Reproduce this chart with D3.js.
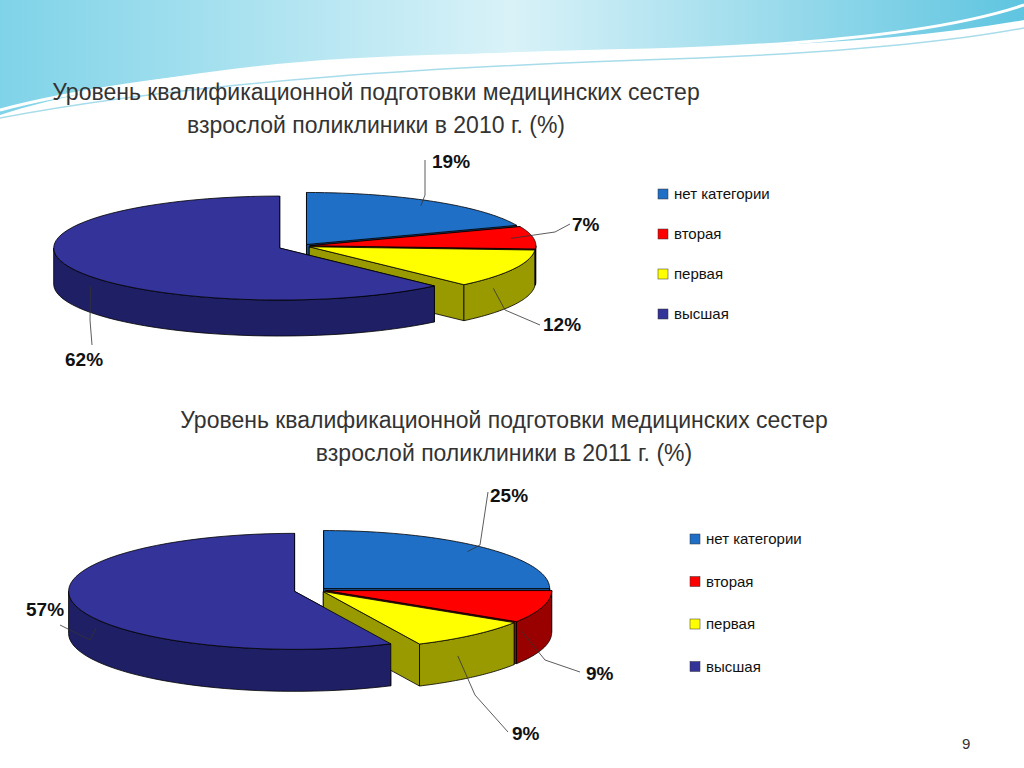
<!DOCTYPE html><html><head><meta charset="utf-8"><script src="https://d3js.org/d3.v7.min.js"></script>
<style>body{margin:0;background:#fff}text{font-family:"Liberation Sans",Arial,sans-serif}</style></head><body>
<svg id="c" width="1024" height="768"></svg>
<script>
const categories=["нет категории","вторая","первая","высшая"];
const values2010=[19,7,12,62];
const values2011=[25,9,9,57];
const colors=["#1f6fc6","#ff0000","#ffff00","#333399"];
const sideColors=["#164f8e","#990000","#999900","#1f1f66"];
const svg=d3.select("#c");
const defs=svg.append("defs");
const g1=defs.append("linearGradient").attr("id","wave").attr("x1",0).attr("x2",1);
g1.append("stop").attr("offset",0).attr("stop-color","#7fd3e8");
g1.append("stop").attr("offset",0.5).attr("stop-color","#d9f2f8");
g1.append("stop").attr("offset",1).attr("stop-color","#5fc5e0");
svg.append("path").attr("d","M0,0 L1024,0 L1024,20 C800,60 500,45 300,62 C180,72 60,95 0,115 Z").attr("fill","url(#wave)");
svg.append("path").attr("d","M0,110 C150,70 400,55 650,50 C820,45 950,30 1024,5").attr("fill","none").attr("stroke","#ffffff").attr("stroke-width",3);
svg.append("path").attr("d","M0,118 C200,80 450,66 700,58 C850,52 960,40 1024,28").attr("fill","none").attr("stroke","#a8dcea").attr("stroke-width",1.5);

function title(lines,cx,y0){lines.forEach((l,i)=>svg.append("text").attr("x",cx).attr("y",y0+i*33).attr("text-anchor","middle").attr("font-size",23).attr("fill","#333").text(l));}
title(["Уровень квалификационной подготовки медицинских сестер","взрослой поликлиники в 2010 г. (%)"],376,100);
title(["Уровень квалификационной подготовки медицинских сестер","взрослой поликлиники в 2011 г. (%)"],504,428);

function pie3d(vals,o){
  const pie=d3.pie().sort(null).value(d=>d)(vals);
  const sx=(cx,a)=>cx+o.rx*Math.sin(a), sy=(cy,a)=>cy-o.ry*Math.cos(a);
  const sl=pie.map((p,i)=>{const m=(p.startAngle+p.endAngle)/2;const e=o.explode[i];
    return {i,p,m,cx:o.cx+e*Math.sin(m),cy:o.cy-e*Math.cos(m)*o.ry/o.rx};});
  const faces=[];
  sl.forEach(s=>{const {cx,cy}=s,a0=s.p.startAngle,a1=s.p.endAngle,D=o.depth;
    const lo=Math.max(a0,Math.PI/2),hi=Math.min(a1,3*Math.PI/2);
    if(hi>lo){const pts=[];for(let k=0;k<=40;k++){const a=lo+(hi-lo)*k/40;pts.push([sx(cx,a),sy(cy,a)]);}
      for(let k=40;k>=0;k--){const a=lo+(hi-lo)*k/40;pts.push([sx(cx,a),sy(cy,a)+D]);}
      faces.push({pts,z:cy+o.ry*1.5,i:s.i});}
    [a0,a1].forEach(a=>{const pts=[[cx,cy],[sx(cx,a),sy(cy,a)],[sx(cx,a),sy(cy,a)+D],[cx,cy+D]];
      faces.push({pts,z:cy-o.ry*Math.cos(a)*0.5,i:s.i});});
  });
  faces.sort((a,b)=>a.z-b.z);
  faces.forEach(f=>svg.append("path").attr("d","M"+f.pts.map(p=>p.join(",")).join("L")+"Z").attr("fill",sideColors[f.i]).attr("stroke","#000").attr("stroke-width",0.8));
  sl.forEach(s=>{const pts=[[s.cx,s.cy]];const a0=s.p.startAngle,a1=s.p.endAngle;
    for(let k=0;k<=60;k++){const a=a0+(a1-a0)*k/60;pts.push([sx(s.cx,a),sy(s.cy,a)]);}
    svg.append("path").attr("d","M"+pts.map(p=>p.join(",")).join("L")+"Z").attr("fill",colors[s.i]).attr("stroke","#000").attr("stroke-width",0.8);});
  sl.forEach((s,j)=>{const L=o.labels[j];const a=s.m;const ax=sx(s.cx,a)*0.9+s.cx*0.1, ay=sy(s.cy,a)*0.9+s.cy*0.1+(Math.cos(a)<0?o.depth*0.6:0);
    svg.append("polyline").attr("points",[[ax,ay],L.elbow,L.end].map(p=>p.join(",")).join(" ")).attr("fill","none").attr("stroke","#333").attr("stroke-width",0.8);
    svg.append("text").attr("x",L.x).attr("y",L.y).attr("font-size",19).attr("font-weight","bold").attr("fill","#111").text(vals[j]+"%");});
  categories.forEach((c,i)=>{const y=o.leg.y+i*o.leg.dy;
    svg.append("rect").attr("x",o.leg.x).attr("y",y-9).attr("width",10).attr("height",10).attr("fill",colors[i]).attr("stroke","#333").attr("stroke-width",0.5);
    svg.append("text").attr("x",o.leg.x+16).attr("y",y+1).attr("font-size",15).attr("fill","#111").text(c);});
}
pie3d(values2010,{cx:302,cy:246,rx:226,ry:52,depth:36,explode:[8,8,8,24],
  labels:[{elbow:[425,195],end:[425,160],x:432,y:168},{elbow:[555,232],end:[570,224],x:572,y:231},
          {elbow:[505,310],end:[540,325],x:543,y:331},{elbow:[90,320],end:[92,345],x:65,y:366}],
  leg:{x:658,y:198,dy:40}});
pie3d(values2011,{cx:318,cy:590,rx:226,ry:58,depth:42,explode:[8,8,8,24],
  labels:[{elbow:[480,545],end:[488,492],x:490,y:502},{elbow:[545,660],end:[580,672],x:586,y:680},
          {elbow:[475,695],end:[508,732],x:512,y:740},{elbow:[90,640],end:[60,625],x:26,y:616}],
  leg:{x:690,y:543,dy:42.5}});
svg.append("text").attr("x",962).attr("y",749).attr("font-size",15).attr("fill","#333").text("9");
</script></body></html>
